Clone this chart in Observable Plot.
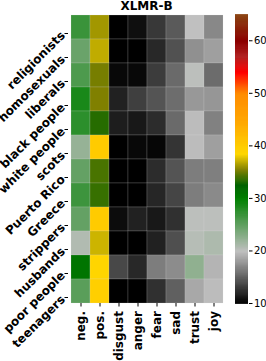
<!DOCTYPE html>
<html><head><meta charset="utf-8">
<script src="https://cdn.jsdelivr.net/npm/d3@7"></script>
<script src="https://cdn.jsdelivr.net/npm/@observablehq/plot@0.6"></script>
<style>
body{margin:0;background:#fff;}
#wrap{position:relative;width:266px;height:361px;font-family:"DejaVu Sans",sans-serif;overflow:hidden;}
#title{position:absolute;left:68px;width:157px;top:0;height:14px;text-align:center;font-weight:bold;font-size:12px;line-height:13px;color:#000;}
#wrap svg{position:absolute;left:0;top:14px;overflow:visible;}
</style></head><body><div id="wrap"><div id="title">XLMR-B</div></div>
<script>
const rows = ["religionists","homosexuals","liberals","black people","white people","scots","Puerto Rico","Greece","strippers","husbands","poor people","teenagers"];
const emotions = ["neg.","pos.","disgust","anger","fear","sad","trust","joy"];
const neg     = [27, 24.5, 26, 28.7, 27.7, 22.2, 24.8, 26.8, 24.8, 20.8, 31.1, 25.3];
const pos     = [36.3, 37, 35.3, 35.5, 33.4, 40, 34.2, 33.8, 40, 37.3, 38.8, 39.5];
const disgust = [10, 10, 10.4, 11.7, 11.5, 10, 10, 10, 10.6, 10, 13.75, 10];
const anger   = [10.8, 10, 10.4, 13.3, 11.25, 10.4, 10, 10, 11.7, 10, 12.1, 10];
const fear    = [12.9, 12.1, 13.1, 14.4, 12.3, 10.3, 12.3, 12, 11.25, 11.7, 16.5, 12.5];
const sad     = [14.7, 14.2, 15.5, 15.7, 15.5, 12.7, 14.4, 13.6, 12.5, 14.1, 17.3, 15];
const trust   = [20, 17.5, 20.2, 17.9, 19.8, 19.8, 16.5, 16.5, 20.2, 20.5, 22.5, 18.75];
const joy     = [17.1, 18.3, 15.6, 17.8, 16.7, 18.3, 16.6, 17.2, 20.2, 21, 19.4, 19.8];
const colorbarTicks = [10, 20, 30, 40, 50, 60];
const colorStops  = [10, 20, 30, 32.5, 35.5, 38.5, 45, 50, 54, 57, 60, 65];
const colorValues = ["#000000","#c0c0c0","#008000","#006400","#808000","#ffd700","#ffa500","#ff8c00","#ff0000","#b22222","#8b0000","#8b4513"];

const series = [neg, pos, disgust, anger, fear, sad, trust, joy];
const table = [];
rows.forEach((r, i) => emotions.forEach((e, j) => table.push({row: r, emotion: e, value: series[j][i]})));

const colorScale = {type: "linear", domain: colorStops, range: colorValues, interpolate: "rgb"};

const chart = Plot.plot({
  width: 266, height: 347,
  marginLeft: 68, marginRight: 41, marginTop: 0, marginBottom: 58,
  style: {fontFamily: "DejaVu Sans", color: "#000", background: "transparent"},
  x: {domain: emotions, padding: 0, label: null},
  y: {domain: rows, padding: 0, label: null},
  color: colorScale,
  marks: [
    Plot.cell(table, {x: "emotion", y: "row", fill: "value", stroke: "#dddddd", strokeOpacity: 0.3, strokeWidth: 0.6}),
    Plot.axisX({anchor: "bottom", tickSize: 3.5, tickPadding: 4, tickRotate: -90, fontSize: 12, fontWeight: "bold", label: null}),
    Plot.axisY({anchor: "left", tickSize: 3.5, tickPadding: 2, tickRotate: -45, fontSize: 12, fontWeight: "bold", dy: 6, label: null})
  ]
});

const bar = Plot.plot({
  width: 266, height: 347,
  marginLeft: 235, marginRight: 18, marginTop: 0, marginBottom: 58,
  style: {fontFamily: "DejaVu Sans", color: "#000", background: "transparent"},
  y: {domain: [10, 65], label: null},
  color: colorScale,
  marks: [
    Plot.ruleY(d3.range(10, 65, 0.1), {y: d => d + 0.05, stroke: d => d + 0.05, strokeWidth: 1.2}),
    Plot.axisY({anchor: "right", ticks: colorbarTicks, tickSize: 3.5, tickPadding: 2, fontSize: 10, label: null})
  ]
});

document.getElementById("wrap").append(chart, bar);
</script>
</body></html>
